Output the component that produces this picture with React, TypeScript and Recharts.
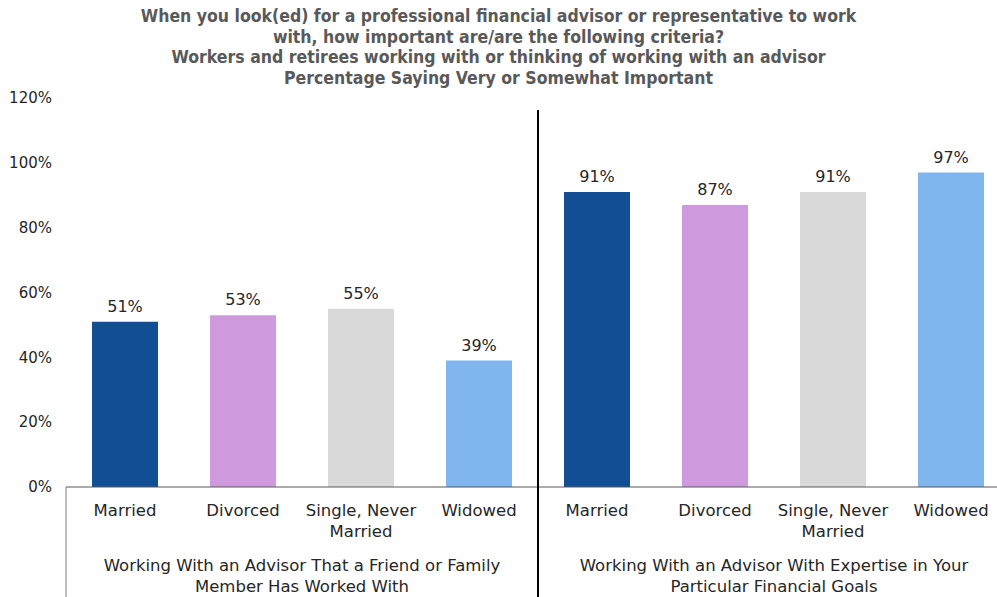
import { BarChart, Bar, XAxis, YAxis, Cell, LabelList } from "recharts"

const categories = [
  "Married",
  "Divorced",
  "Single, Never\nMarried",
  "Widowed",
  "Married",
  "Divorced",
  "Single, Never\nMarried",
  "Widowed",
]
const groups = [
  "Working With an Advisor That a Friend or Family\nMember Has Worked With",
  "Working With an Advisor With Expertise in Your\nParticular Financial Goals",
]
const values = [51, 53, 55, 39, 91, 87, 91, 97]
const yTicks = [0, 20, 40, 60, 80, 100, 120]
const COLORS = ["#114E93", "#CE9ADD", "#D9D9D9", "#80B5EE"]

const title = [
  "When you look(ed) for a professional financial advisor or representative to work",
  "with, how important are/are the following criteria?",
  "Workers and retirees working with or thinking of working with an advisor",
  "Percentage Saying Very or Somewhat Important",
]

const data = values.map((v, i) => ({
  key: `c${i}`,
  label: categories[i],
  group: groups[Math.floor(i / 4)],
  value: v,
}))

const W = 1010
const H = 597
const Y_W = 66
const CAT_H = 65
const GROUP_H = 45
const M = { top: 98, right: 0, left: 0, bottom: 0 }
const PLOT_BOTTOM = H - CAT_H - GROUP_H
const HALF_GROUP = (W - Y_W - M.left - M.right) / 4
const FONT = "'DejaVu Sans', sans-serif"

const CatTick = (props: any) => {
  const { x, y, index } = props
  const lines = String(categories[index]).split("\n")
  return (
    <text x={x} y={y} textAnchor="middle" fontSize={16.5} fill="#262626" fontFamily={FONT}>
      {lines.map((l, i) => (
        <tspan key={i} x={x} y={y + 29 + i * 21}>
          {l}
        </tspan>
      ))}
    </text>
  )
}

const GroupTick = (props: any) => {
  const { x, y, payload, index } = props
  const lines = String(payload.value).split("\n")
  const left = x - HALF_GROUP
  return (
    <g>
      {index === 0 ? (
        <line x1={left} x2={left} y1={PLOT_BOTTOM} y2={H} stroke="#7f7f7f" strokeWidth={1} />
      ) : (
        <line x1={left} x2={left} y1={M.top + 12} y2={H} stroke="#000" strokeWidth={2} />
      )}
      <text x={x} y={y} textAnchor="middle" fontSize={16.5} fill="#262626" fontFamily={FONT}>
        {lines.map((l, i) => (
          <tspan key={i} x={x} y={y + 19 + i * 21}>
            {l}
          </tspan>
        ))}
      </text>
    </g>
  )
}

export default function App() {
  return (
    <div style={{ position: "fixed", left: 0, top: 0, width: 997, height: 597, overflow: "hidden", background: "#fff" }}>
      <div
        style={{
          position: "absolute",
          top: 6,
          left: 0,
          width: 997,
          textAlign: "center",
          fontFamily: "'DejaVu Sans Condensed', 'DejaVu Sans', sans-serif",
          fontStretch: "condensed",
          fontWeight: "bold",
          fontSize: 17.5,
          lineHeight: "20.5px",
          color: "#595959",
          zIndex: 2,
        }}
      >
        {title.map((t, i) => (
          <div key={i}>{t}</div>
        ))}
      </div>
      <BarChart width={W} height={H} data={data} margin={M} barSize={66}>
        <XAxis
          dataKey="key"
          height={CAT_H}
          tickSize={0}
          tickMargin={0}
          interval={0}
          tick={<CatTick />}
          axisLine={{ stroke: "#595959" }}
          tickLine={false}
        />
        <XAxis
          xAxisId="g"
          dataKey="group"
          allowDuplicatedCategory={false}
          height={GROUP_H}
          tickSize={0}
          tickMargin={0}
          interval={0}
          tick={<GroupTick />}
          axisLine={false}
          tickLine={false}
        />
        <YAxis
          width={Y_W}
          domain={[0, 120]}
          ticks={yTicks}
          tickFormatter={(v: number) => `${v}%`}
          axisLine={false}
          tickLine={false}
          tickMargin={8}
          tick={{ fontSize: 15, fill: "#262626", fontFamily: FONT }}
        />
        <Bar dataKey="value" isAnimationActive={false}>
          {data.map((d, i) => (
            <Cell key={d.key} fill={COLORS[i % 4]} />
          ))}
          <LabelList
            dataKey="value"
            position="top"
            offset={10}
            formatter={(v: number) => `${v}%`}
            style={{ fontSize: 16, fill: "#262626", fontFamily: FONT }}
          />
        </Bar>
      </BarChart>
    </div>
  )
}
